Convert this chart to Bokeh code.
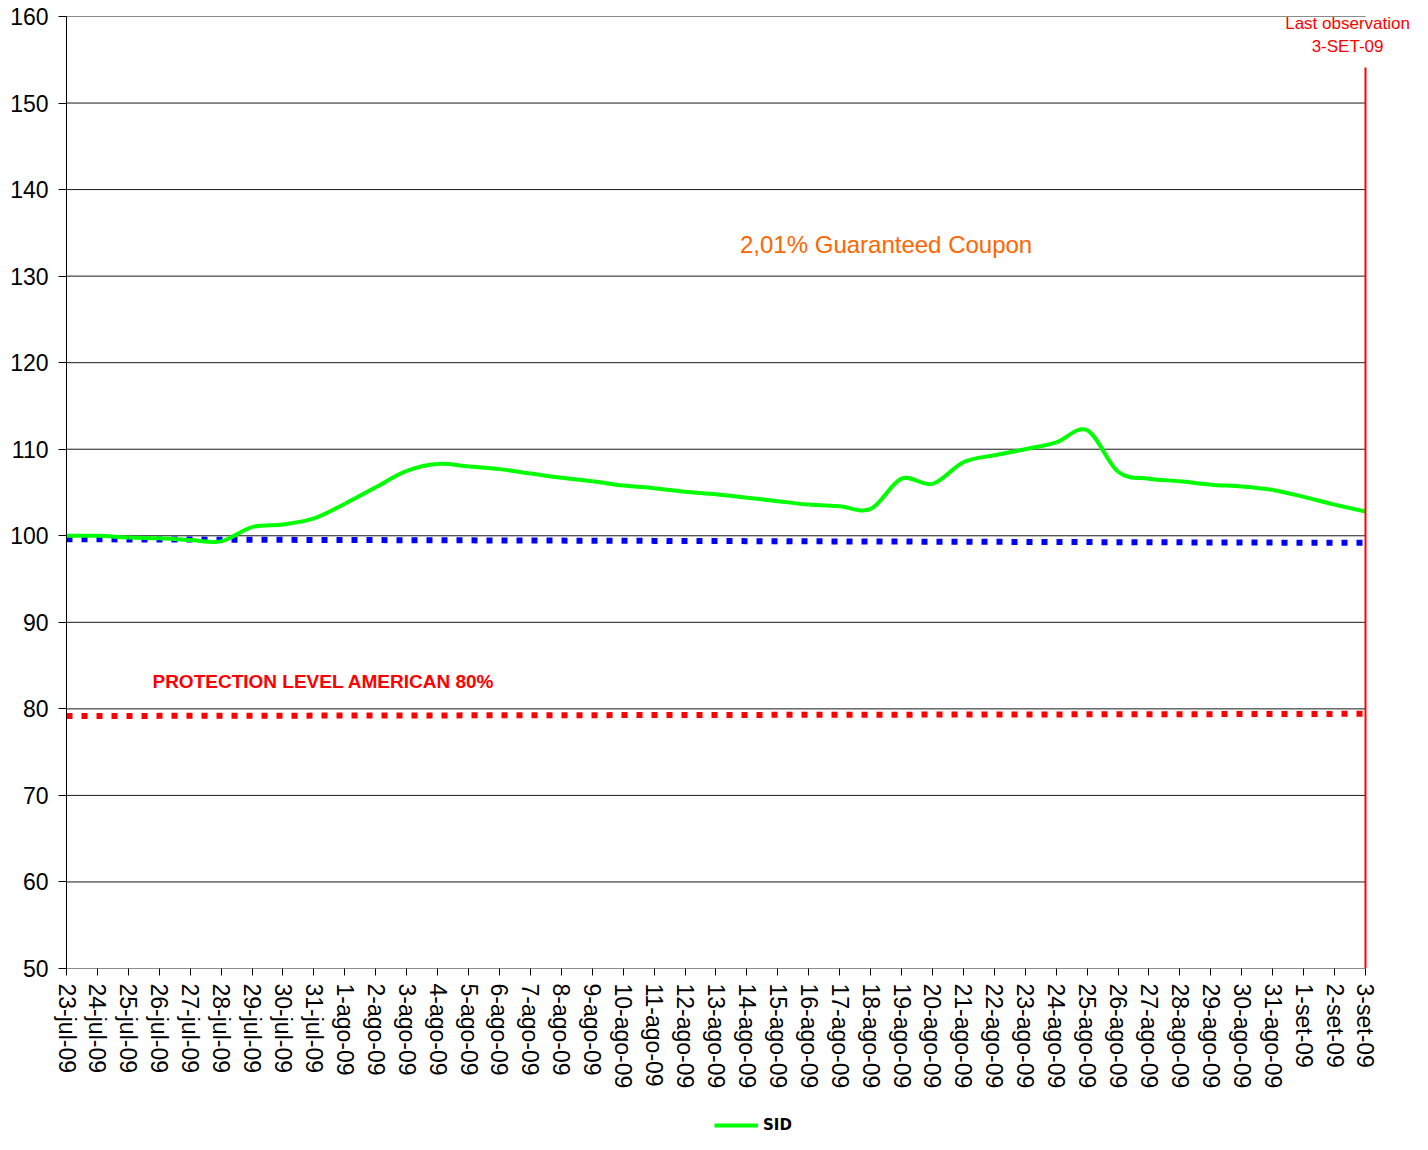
import math
from bokeh.plotting import figure
from bokeh.layouts import column
from bokeh.models import Range1d, FixedTicker, Label, Legend, LegendItem
from bokeh.embed import file_html
from bokeh.resources import INLINE

dates = ["23-jul-09", "24-jul-09", "25-jul-09", "26-jul-09", "27-jul-09", "28-jul-09",
         "29-jul-09", "30-jul-09", "31-jul-09",
         "1-ago-09", "2-ago-09", "3-ago-09", "4-ago-09", "5-ago-09", "6-ago-09", "7-ago-09",
         "8-ago-09", "9-ago-09", "10-ago-09", "11-ago-09", "12-ago-09", "13-ago-09",
         "14-ago-09", "15-ago-09", "16-ago-09", "17-ago-09", "18-ago-09", "19-ago-09",
         "20-ago-09", "21-ago-09", "22-ago-09", "23-ago-09", "24-ago-09", "25-ago-09",
         "26-ago-09", "27-ago-09", "28-ago-09", "29-ago-09", "30-ago-09", "31-ago-09",
         "1-set-09", "2-set-09", "3-set-09"]

sid = [100.0, 100.0, 99.8, 99.7, 99.5, 99.35, 101.0, 101.3, 102.0, 103.7, 105.6, 107.5,
       108.3, 108.0, 107.7, 107.2, 106.7, 106.3, 105.8, 105.5, 105.1, 104.8, 104.4, 104.0,
       103.6, 103.4, 103.1, 106.6, 106.0, 108.5, 109.3, 110.0, 110.8, 112.2, 107.4, 106.6,
       106.3, 105.9, 105.7, 105.3, 104.5, 103.6, 102.8]

capital = [99.60, 99.59, 99.58, 99.57, 99.56, 99.55, 99.54, 99.53, 99.52, 99.51, 99.50,
           99.49, 99.48, 99.47, 99.46, 99.45, 99.44, 99.43, 99.42, 99.41, 99.40, 99.39,
           99.38, 99.37, 99.36, 99.35, 99.34, 99.33, 99.32, 99.31, 99.30, 99.29, 99.28,
           99.27, 99.26, 99.25, 99.24, 99.23, 99.22, 99.21, 99.20, 99.20, 99.20]

protection = [79.17, 79.18, 79.18, 79.19, 79.19, 79.20, 79.21, 79.21, 79.22, 79.22, 79.23,
              79.24, 79.24, 79.25, 79.25, 79.26, 79.27, 79.27, 79.28, 79.28, 79.29, 79.30,
              79.30, 79.31, 79.31, 79.32, 79.33, 79.33, 79.34, 79.34, 79.35, 79.36, 79.36,
              79.37, 79.37, 79.38, 79.39, 79.39, 79.40, 79.40, 79.41, 79.42, 79.43]

y_ticks = [50, 60, 70, 80, 90, 100, 110, 120, 130, 140, 150, 160]
last_obs_index = 42
last_obs_top = 154.1

idx = list(range(len(dates)))
n = len(idx)

p = figure(width=1412, height=1116, output_backend="svg", toolbar_location=None,
           x_range=Range1d(0, 43.52), y_range=Range1d(50, 160),
           min_border_left=66, min_border_right=0, min_border_top=16, min_border_bottom=148)
p.outline_line_color = None
p.background_fill_color = "white"
p.border_fill_color = "white"
p.xgrid.visible = False
p.ygrid.visible = False

FONT = "Liberation Sans"
p.xaxis.ticker = FixedTicker(ticks=idx)
p.xaxis.major_label_overrides = {i: d for i, d in enumerate(dates)}
p.xaxis.major_label_orientation = -math.pi / 2
p.xaxis.major_tick_out = 7
p.xaxis.major_tick_in = 0
p.xaxis.minor_tick_line_color = None
p.xaxis.major_label_standoff = 8
p.xaxis.axis_line_color = None
p.yaxis.ticker = FixedTicker(ticks=y_ticks)
p.yaxis.major_tick_out = 8
p.yaxis.major_tick_in = 0
p.yaxis.minor_tick_line_color = None
p.yaxis.major_label_standoff = 10
p.yaxis.axis_line_color = "black"
for ax in (p.xaxis, p.yaxis):
    ax.major_label_text_font = FONT
    ax.major_label_text_font_size = "23px"
    ax.major_label_text_color = "black"
    ax.major_tick_line_color = "black"

# horizontal gridlines spanning the category range only
p.segment(x0=[idx[0]] * len(y_ticks), y0=y_ticks, x1=[idx[-1]] * len(y_ticks), y1=y_ticks,
          line_color="#1a1a1a", line_width=1)

p.line(idx, protection, line_color="#FF0000", line_width=6, line_dash="6 9", line_cap="butt")
p.line(idx, capital, line_color="#0000FF", line_width=6, line_dash="6 9", line_cap="butt")

# smoothed SID line (Bezier through the data points, like a spreadsheet "smoothed line")
x0s, y0s, x1s, y1s, cx0s, cy0s, cx1s, cy1s = [], [], [], [], [], [], [], []
for i in range(n - 1):
    xa, ya = idx[i], sid[i]
    xb, yb = idx[i + 1], sid[i + 1]
    xp, yp = (idx[i - 1], sid[i - 1]) if i > 0 else (xa, ya)
    xn, yn = (idx[i + 2], sid[i + 2]) if i + 2 < n else (xb, yb)
    x0s.append(xa); y0s.append(ya); x1s.append(xb); y1s.append(yb)
    cx0s.append(xa + (xb - xp) / 6.0); cy0s.append(ya + (yb - yp) / 6.0)
    cx1s.append(xb - (xn - xa) / 6.0); cy1s.append(yb - (yn - ya) / 6.0)
p.bezier(x0=x0s, y0=y0s, x1=x1s, y1=y1s, cx0=cx0s, cy0=cy0s, cx1=cx1s, cy1=cy1s,
         line_color="#00FF00", line_width=4)

p.segment(x0=[last_obs_index], y0=[50], x1=[last_obs_index], y1=[last_obs_top],
          line_color="#FF0000", line_width=2)

p.add_layout(Label(x=26.5, y=133.65, text="2,01% Guaranteed Coupon", text_align="center",
                   text_baseline="middle", text_color="#FF6600", text_font=FONT,
                   text_font_size="24px"))
p.add_layout(Label(x=2.78, y=83.2, text="PROTECTION LEVEL AMERICAN 80%", text_align="left",
                   text_baseline="middle", text_color="#FF0000", text_font=FONT,
                   text_font_size="19px", text_font_style="bold"))
p.add_layout(Label(x=41.42, y=159.18, text="Last observation", text_align="center",
                   text_baseline="middle", text_color="#FF0000", text_font=FONT,
                   text_font_size="17px"))
p.add_layout(Label(x=41.42, y=156.5, text="3-SET-09", text_align="center",
                   text_baseline="middle", text_color="#FF0000", text_font=FONT,
                   text_font_size="17px"))

# legend strip below the chart (its frame is aligned with the chart's frame)
leg = figure(width=1412, height=18, output_backend="svg", toolbar_location=None,
             x_range=Range1d(0, 1), y_range=Range1d(0, 1), x_axis_type=None, y_axis_type=None,
             min_border=0)
leg.outline_line_color = None
leg.grid.visible = False
leg.background_fill_color = "white"
leg.border_fill_color = "white"
g = leg.line(x=[5, 6], y=[5, 6], line_color="#00FF00", line_width=4)
legend = Legend(items=[LegendItem(label="SID", renderers=[g])], location=(648, 0),
                orientation="horizontal", padding=0, margin=0, spacing=0,
                glyph_width=44, glyph_height=16, label_standoff=5, label_height=16,
                label_text_font="DejaVu Sans", label_text_font_style="bold",
                label_text_font_size="15px", label_text_color="black",
                border_line_color=None, background_fill_alpha=0)
leg.add_layout(legend)

layout = column(p, leg, spacing=0)
open("out.html", "w").write(file_html(layout, INLINE))
